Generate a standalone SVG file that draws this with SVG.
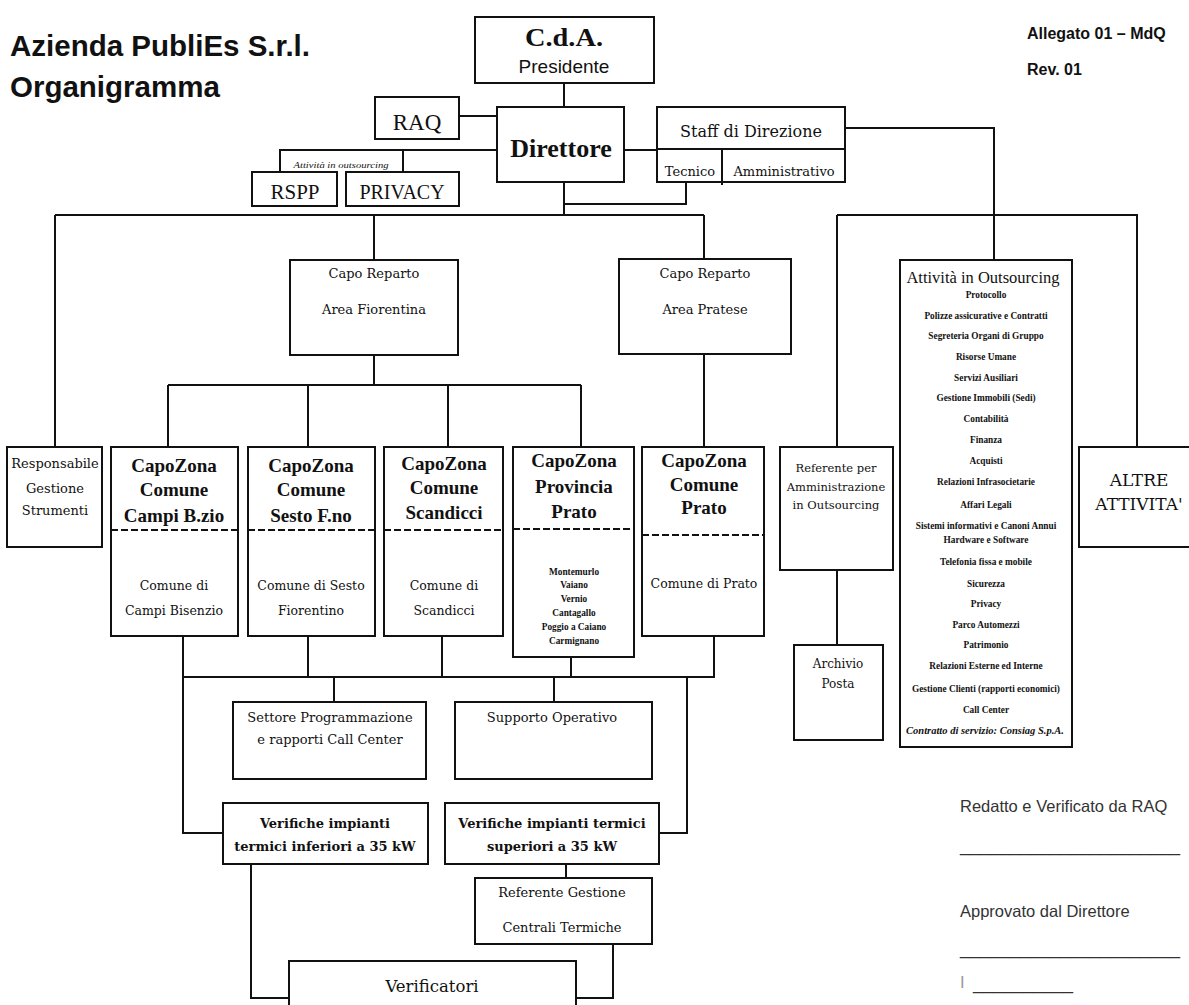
<svg xmlns="http://www.w3.org/2000/svg" width="1189" height="1005" viewBox="0 0 1189 1005">
<style>
.b{fill:#fff;stroke:#111;stroke-width:2}
.c{fill:none;stroke:#111;stroke-width:2}
.d{fill:none;stroke:#111;stroke-width:2;stroke-dasharray:7,3}
text{font-family:"Liberation Serif",serif;fill:#111;text-anchor:middle}
.s{font-family:"Liberation Sans",Arial,sans-serif}
.h{font-family:"Liberation Sans",Arial,sans-serif;font-weight:bold;text-anchor:start}
.cz{font-size:19px;font-weight:bold}
.m{font-family:"DejaVu Serif",serif;font-size:13px}
.n{font-family:"DejaVu Serif",serif;font-size:12.5px}
.v{font-family:"DejaVu Serif",serif;font-size:13px;font-weight:bold}
.t{font-size:9.3px;font-weight:bold}
.r{font-family:"Liberation Sans",Arial,sans-serif;font-size:16.5px;fill:#333;text-anchor:start}
</style>
<rect width="1189" height="1005" fill="#fff"/>
<g id="title">
<text class="h" x="10" y="56" style="font-size:29.5px">Azienda PubliEs S.r.l.</text>
<text class="h" x="10" y="97" style="font-size:29.5px">Organigramma</text>
<text class="h" x="1027" y="39" style="font-size:16px">Allegato 01 – MdQ</text>
<text class="h" x="1027" y="75" style="font-size:16px">Rev. 01</text>
</g>
<g id="connectors">
<path class="c" d="M564,83V107M459,116H497M497,150H280V172M403,150V172M624,150H657M564,182V215M564,204H686V182M845,128H994V260M55,215H704M55,215V447M374,215V260M704,215V259M837,215H1137V447M837,215V447M837,570V645M374,355V385M168,385H581M168,385V447M308,385V447M448,385V447M581,385V447M704,354V447M183,636V833H223M308,636V677M442,636V677M571,657V677M714,636V677H183M687,677V833H659M334,677V702M554,677V702M566,864V878M251,864V998H289M613,944V998H576"/>
</g>
<g id="cda"><rect class="b" x="475" y="17" width="179" height="66"/><text x="564" y="46" style="font-size:25px;font-weight:bold" textLength="78" lengthAdjust="spacingAndGlyphs">C.d.A.</text><text class="s" x="564" y="73" style="font-size:19px">Presidente</text></g>
<g id="raq"><rect class="b" x="375" y="97" width="84" height="42"/><text x="417" y="130" style="font-size:23px">RAQ</text></g>
<g id="direttore"><rect class="b" x="497" y="107" width="127" height="75"/><text x="561" y="157" style="font-size:26px;font-weight:bold">Direttore</text></g>
<g id="outsourcing-label"><text x="341" y="168" style="font-size:9px;font-style:italic" textLength="95" lengthAdjust="spacingAndGlyphs">Attività in outsourcing</text></g>
<g id="rspp"><rect class="b" x="252" y="172" width="85" height="34"/><text x="295" y="199" style="font-size:21px">RSPP</text></g>
<g id="privacy"><rect class="b" x="346" y="172" width="113" height="34"/><text x="402" y="199" style="font-size:20px">PRIVACY</text></g>
<g id="staff"><rect class="b" x="657" y="107" width="188" height="75"/><path class="c" d="M657,149H845M722,149V185"/><text class="m" x="751" y="137" style="font-size:16px">Staff di Direzione</text><text class="m" x="690" y="176">Tecnico</text><text class="m" x="784" y="176">Amministrativo</text></g>
<g id="capo-fiorentina"><rect class="b" x="290" y="260" width="168" height="95"/><text class="m" x="374" y="278">Capo Reparto</text><text class="m" x="374" y="314">Area Fiorentina</text></g>
<g id="capo-pratese"><rect class="b" x="619" y="259" width="172" height="95"/><text class="m" x="705" y="278">Capo Reparto</text><text class="m" x="705" y="314">Area Pratese</text></g>
<g id="resp-strumenti"><rect class="b" x="7" y="447" width="95" height="100"/><text class="m" x="55" y="468">Responsabile</text><text class="m" x="55" y="493">Gestione</text><text class="m" x="55" y="515">Strumenti</text></g>
<g id="cz-campi"><rect class="b" x="111" y="447" width="127" height="189"/><path class="d" d="M111,530H238"/><text class="cz" x="174" y="472">CapoZona</text><text class="cz" x="174" y="496">Comune</text><text class="cz" x="174" y="522">Campi B.zio</text><text class="n" x="174" y="590">Comune di</text><text class="n" x="174" y="615">Campi Bisenzio</text></g>
<g id="cz-sesto"><rect class="b" x="248" y="447" width="127" height="189"/><path class="d" d="M248,530H375"/><text class="cz" x="311" y="472">CapoZona</text><text class="cz" x="311" y="496">Comune</text><text class="cz" x="311" y="522">Sesto F.no</text><text class="n" x="311" y="590">Comune di Sesto</text><text class="n" x="311" y="615">Fiorentino</text></g>
<g id="cz-scandicci"><rect class="b" x="384" y="447" width="119" height="189"/><path class="d" d="M384,530H503"/><text class="cz" x="444" y="470">CapoZona</text><text class="cz" x="444" y="494">Comune</text><text class="cz" x="444" y="519">Scandicci</text><text class="n" x="444" y="590">Comune di</text><text class="n" x="444" y="615">Scandicci</text></g>
<g id="cz-provincia"><rect class="b" x="513" y="447" width="121" height="210"/><path class="d" d="M513,529H634"/><text class="cz" x="574" y="467">CapoZona</text><text class="cz" x="574" y="493">Provincia</text><text class="cz" x="574" y="518">Prato</text><text class="t" x="574" y="575">Montemurlo</text><text class="t" x="574" y="588">Vaiano</text><text class="t" x="574" y="602">Vernio</text><text class="t" x="574" y="616">Cantagallo</text><text class="t" x="574" y="630">Poggio a Caiano</text><text class="t" x="574" y="644">Carmignano</text></g>
<g id="cz-prato"><rect class="b" x="642" y="447" width="122" height="189"/><path class="d" d="M642,535H764"/><text class="cz" x="704" y="467">CapoZona</text><text class="cz" x="704" y="491">Comune</text><text class="cz" x="704" y="514">Prato</text><text class="n" x="704" y="588">Comune di Prato</text></g>
<g id="ref-amministrazione"><rect class="b" x="780" y="447" width="113" height="123"/><text class="n" x="836" y="472" style="font-size:11.5px">Referente per</text><text class="n" x="836" y="491" style="font-size:11.5px">Amministrazione</text><text class="n" x="836" y="509" style="font-size:11.5px">in Outsourcing</text></g>
<g id="archivio"><rect class="b" x="794" y="645" width="89" height="95"/><text class="n" x="838" y="668" style="font-size:12px">Archivio</text><text class="n" x="838" y="688" style="font-size:12px">Posta</text></g>
<g id="attivita-outsourcing"><rect class="b" x="900" y="260" width="172" height="487"/><text x="983" y="283" style="font-size:16.5px">Attività in Outsourcing</text>
<text class="t" x="986" y="298">Protocollo</text>
<text class="t" x="986" y="319">Polizze assicurative e Contratti</text>
<text class="t" x="986" y="339">Segreteria Organi di Gruppo</text>
<text class="t" x="986" y="360">Risorse Umane</text>
<text class="t" x="986" y="381">Servizi Ausiliari</text>
<text class="t" x="986" y="401">Gestione Immobili (Sedi)</text>
<text class="t" x="986" y="422">Contabilità</text>
<text class="t" x="986" y="443">Finanza</text>
<text class="t" x="986" y="464">Acquisti</text>
<text class="t" x="986" y="485">Relazioni Infrasocietarie</text>
<text class="t" x="986" y="508">Affari Legali</text>
<text class="t" x="986" y="529">Sistemi informativi e Canoni Annui</text>
<text class="t" x="986" y="543">Hardware e Software</text>
<text class="t" x="986" y="565">Telefonia fissa e mobile</text>
<text class="t" x="986" y="587">Sicurezza</text>
<text class="t" x="986" y="607">Privacy</text>
<text class="t" x="986" y="628">Parco Automezzi</text>
<text class="t" x="986" y="648">Patrimonio</text>
<text class="t" x="986" y="669">Relazioni Esterne ed Interne</text>
<text class="t" x="986" y="692">Gestione Clienti (rapporti economici)</text>
<text class="t" x="986" y="713">Call Center</text>
<text class="t" x="985" y="734" style="font-size:10.5px;font-style:italic">Contratto di servizio: Consiag S.p.A.</text></g>
<g id="altre-attivita"><rect class="b" x="1079" y="447" width="120" height="100"/><text class="m" x="1139" y="486" style="font-size:17px">ALTRE</text><text class="m" x="1139" y="510" style="font-size:17px">ATTIVITA'</text></g>
<g id="settore"><rect class="b" x="233" y="702" width="193" height="77"/><text class="m" x="330" y="722">Settore Programmazione</text><text class="m" x="330" y="744">e rapporti Call Center</text></g>
<g id="supporto"><rect class="b" x="455" y="702" width="197" height="77"/><text class="m" x="552" y="722">Supporto Operativo</text></g>
<g id="ver-inferiori"><rect class="b" x="223" y="803" width="205" height="61"/><text class="v" x="325" y="828">Verifiche impianti</text><text class="v" x="325" y="851">termici inferiori a 35 kW</text></g>
<g id="ver-superiori"><rect class="b" x="445" y="803" width="214" height="61"/><text class="v" x="552" y="828">Verifiche impianti termici</text><text class="v" x="552" y="851">superiori a 35 kW</text></g>
<g id="ref-centrali"><rect class="b" x="475" y="878" width="177" height="66"/><text class="m" x="562" y="897">Referente Gestione</text><text class="m" x="562" y="932">Centrali Termiche</text></g>
<g id="verificatori"><rect class="b" x="289" y="961" width="287" height="60"/><text class="m" x="432" y="992" style="font-size:16.5px">Verificatori</text></g>
<g id="firme">
<text class="r" x="960" y="812">Redatto e Verificato da RAQ</text>
<text class="r" x="960" y="852" textLength="220" lengthAdjust="spacingAndGlyphs">______________________</text>
<text class="r" x="960" y="917">Approvato dal Direttore</text>
<text class="r" x="960" y="955" textLength="220" lengthAdjust="spacingAndGlyphs">______________________</text>
<text class="r" x="960" y="988" style="fill:#999">I</text>
<text class="r" x="973" y="990" textLength="100" lengthAdjust="spacingAndGlyphs">__________</text>
</g>
</svg>
